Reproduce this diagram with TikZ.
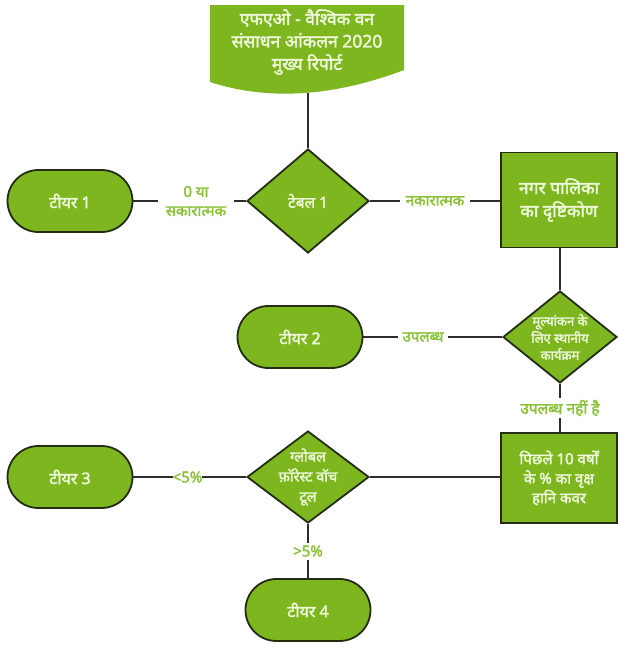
\documentclass[tikz,border=0pt]{standalone}
\usepackage{fontspec}
\newfontfamily\hin[Script=Devanagari, FakeBold=2.2]{Noto Sans}
\usetikzlibrary{shapes.geometric,shapes.misc}
\definecolor{gfill}{RGB}{125,182,30}
\definecolor{gborder}{RGB}{35,45,20}
\definecolor{gtext}{RGB}{238,248,218}
\definecolor{glabel}{RGB}{138,194,58}
\definecolor{gline}{RGB}{45,45,45}
\begin{document}
\begin{tikzpicture}[x=1pt,y=-1pt,
  tier/.style={rounded rectangle, draw=gborder, line width=1.8pt, fill=gfill,
    minimum width=125pt, minimum height=62pt, inner sep=0pt, text=gtext,
    font=\hin\fontsize{16}{19}\selectfont},
  boxnode/.style={rectangle, draw=gborder, line width=1.8pt, fill=gfill,
    inner sep=0pt, text=gtext, align=center},
  dia/.style={diamond, draw=gborder, line width=1.8pt, fill=gfill, inner sep=0pt},
  dtext/.style={text=gtext, align=center, inner sep=0pt},
  conn/.style={draw=gline, line width=1.3pt},
  lab/.style={fill=white, text=glabel, align=center, inner ysep=1pt,
    font=\hin\fontsize{15}{19}\selectfont}]
\useasboundingbox (0,0) rectangle (618,648);
\fill[white] (0,0) rectangle (618,648);

% document shape
\fill[gfill] (210,5) -- (404,5) -- (404,70)
  .. controls (330,98) and (265,100) .. (210,82) -- cycle;
\node[dtext, font=\hin\fontsize{17.5}{22.5}\selectfont] (doc) at (307,42)
  {एफएओ - वैश्विक वन\\संसाधन आंकलन 2020\\मुख्य रिपोर्ट};
\coordinate (docb) at (308,93);

% row 1
\node[tier] (t1) at (70,201) {टीयर 1};
\node[dia, minimum width=122pt, minimum height=104pt] (d1) at (308,201) {};
\node[dtext, font=\hin\fontsize{15.5}{18}\selectfont] (d1t) at (d1) {टेबल 1};
\node[boxnode, minimum width=116pt, minimum height=95pt,
  font=\hin\fontsize{17.5}{23}\selectfont] (b1) at (559,200)
  {नगर पालिका\\का दृष्टिकोण};

% row 2
\node[tier] (t2) at (300,337) {टीयर 2};
\node[dia, minimum width=114pt, minimum height=92pt] (d2) at (560,337) {};
\node[dtext, font=\hin\fontsize{13}{17}\selectfont] (d2t) at (d2)
  {मूल्यांकन के\\लिए स्थानीय\\कार्यक्रम};

% row 3
\node[tier] (t3) at (70,477) {टीयर 3};
\node[dia, minimum width=122pt, minimum height=92pt] (d3) at (308,477) {};
\node[dtext, font=\hin\fontsize{14.5}{20}\selectfont] (d3t) at (d3)
  {ग्लोबल\\फ़ॉरेस्ट वॉच\\टूल};
\node[boxnode, minimum width=116pt, minimum height=90pt,
  font=\hin\fontsize{15}{19.5}\selectfont] (b3) at (559,478)
  {पिछले 10 वर्षों\\के \% का वृक्ष\\हानि कवर};

% row 4
\node[tier] (t4) at (308,610) {टीयर 4};

% connectors
\draw[conn] (docb) -- (d1.north);
\draw[conn] (t1.east) -- node[lab, pos=0.555, inner xsep=8pt] {0 या\\सकारात्मक} (d1.west);
\draw[conn] (d1.east) -- node[lab, pos=0.5, inner xsep=6pt] {नकारात्मक} (d1.east -| b1.west);
\draw[conn] (d2.north) -- (d2.north |- b1.south);
\draw[conn] (t2.east) -- node[lab, pos=0.43, inner xsep=5pt] {उपलब्ध} (d2.west);
\draw[conn] (d2.south) -- node[lab, pos=0.5, inner xsep=1pt, inner ysep=2pt,
  font=\hin\fontsize{15.5}{18}\selectfont] {उपलब्ध नहीं है} (d2.south |- b3.north);
\draw[conn] (d3.east) -- (d3.east -| b3.west);
\draw[conn] (t3.east) -- node[lab, pos=0.48, inner xsep=0pt] {<5\%} (d3.west);
\draw[conn] (d3.south) -- node[lab, pos=0.5, inner xsep=1pt, inner ysep=3pt] {>5\%} (t4.north);
\end{tikzpicture}
\end{document}
